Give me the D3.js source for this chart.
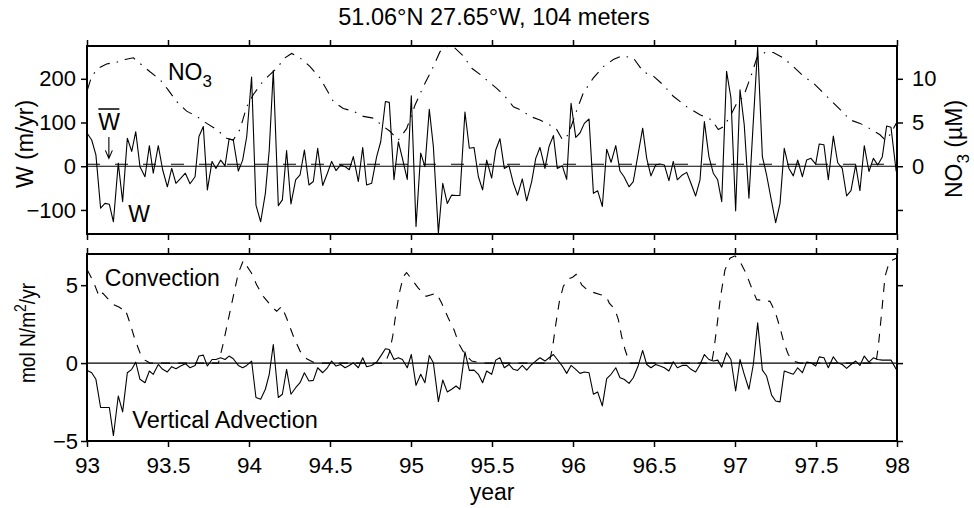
<!DOCTYPE html>
<html>
<head>
<meta charset="utf-8">
<script src="https://cdn.jsdelivr.net/npm/d3@7/dist/d3.min.js"></script>
<style>
  body { margin: 0; background: #fff; }
  text { font-family: "Liberation Sans", Arial, Helvetica, sans-serif; fill: #000; }
</style>
</head>
<body>
<div id="chart"></div>
<script>
// sample times (decimal year, 19xx) shared by W and vertical advection
var years = [
  93.002, 93.029, 93.055, 93.084, 93.111, 93.138, 93.163, 93.193, 93.220, 93.249,
  93.276, 93.301, 93.327, 93.358, 93.385, 93.409, 93.440, 93.467, 93.496, 93.523,
  93.549, 93.578, 93.607, 93.636, 93.667, 93.691, 93.718, 93.743, 93.772, 93.796,
  93.825, 93.852, 93.877, 93.903, 93.934, 93.961, 93.986, 94.016, 94.043, 94.072,
  94.101, 94.125, 94.150, 94.181, 94.206, 94.232, 94.259, 94.288, 94.315, 94.342,
  94.370, 94.397, 94.424, 94.455, 94.484, 94.510, 94.537, 94.566, 94.593, 94.619,
  94.644, 94.675,
  94.702, 94.726, 94.757, 94.788, 94.813, 94.842, 94.866, 94.895, 94.922, 94.947,
  94.977, 95.002, 95.031, 95.060, 95.086, 95.113, 95.138, 95.169, 95.196, 95.224,
  95.251, 95.278, 95.302, 95.333, 95.360, 95.389, 95.416, 95.442, 95.467, 95.498,
  95.523, 95.549, 95.576, 95.605, 95.632, 95.658, 95.687, 95.714, 95.745, 95.770,
  95.796, 95.827, 95.852, 95.879, 95.903, 95.934, 95.961, 95.988, 96.017, 96.043,
  96.070, 96.099, 96.126, 96.152, 96.181, 96.208, 96.235, 96.264,
  96.290, 96.315, 96.346, 96.372, 96.403, 96.430, 96.455, 96.481, 96.510, 96.537,
  96.564, 96.592, 96.619, 96.644, 96.675, 96.702, 96.728, 96.757, 96.784, 96.811,
  96.839, 96.866, 96.893, 96.918, 96.948, 96.975, 97.004, 97.031, 97.057, 97.086,
  97.113, 97.140, 97.169, 97.195, 97.226, 97.251, 97.278, 97.304, 97.333, 97.360,
  97.387, 97.416, 97.442, 97.469, 97.498, 97.520, 97.549, 97.576, 97.607, 97.634,
  97.662, 97.689, 97.716, 97.745, 97.771, 97.798, 97.827, 97.854, 97.881, 97.909,
  97.936, 97.963, 97.995
];

// W (m/yr)
var wValues = [
  75, 60, 26, -96, -85, -87, -127, 7, -81, 64,
  34, 79, -1, -24, 47, -16, 47, -8, -47, -5,
  -39, -28, -16, -40, -24, 68, 91, -54, 11, -5,
  14, 1, 62, 60, -11, 14, 68, 204, -89, -127,
  -62, 37, 219, -90, -77, 36, -86, -31, -20, 37,
  -43, -35, 41, -44, -16, 11, -10, 3, -1, -8,
  22, -35,
  43, -43, -39, 22, 56, 148, 146, -31, 56, 18,
  -30, 161, -138, 30, -1, 130, 45, -153, -39, -85,
  -66, -67, -67, 124, 41, 43, -24, -54, 14, -27,
  37, 63, -5, 1, -39, -66, -29, -79, -35, 18,
  43, -5, 45, 70, -5, 1, -30, 144, 66, 76,
  98, 108, -62, -56, -92, 39, 9, 47,
  -11, -24, -47, -35, 30, 87, 18, -22, 3, 5,
  3, -33, 11, -31, -20, -14, -39, -68, -31, 102,
  22, -16, -31, -81, 217, 156, -102, 175, 95, -73,
  102, 272, 22, -20, -81, -129, -85, 41, -5, -22,
  14, -24, 14, 18, 5, 51, 49, -31, 69, 8,
  -5, -68, -56, 3, -56, 47, -12, 18, 3, 21,
  92, 89, -12
];
var wMean = 4.5;

// vertical advection (mol N/m2/yr)
var advValues = [
  -0.47, -0.62, -1.04, -2.85, -2.85, -2.85, -4.66, -2.11, -3.13, -0.62,
  -0.40, 0.06, -1.04, -1.26, -0.51, -0.72, -0.09, -0.40, -0.57, -0.23,
  -0.36, -0.19, -0.04, -0.30, -0.15, 0.45, 0.51, -0.19, 0.23, 0.23,
  0.34, 0.23, 0.45, 0.28, -0.15, -0.30, -0.15, 0.13, -2.21, -2.32,
  -1.68, -0.72, 1.19, -2.21, -2.00, -0.40, -2.00, -1.58, -1.26, -0.62,
  -1.15, -1.11, -0.30, -0.62, -0.30, 0.13, -0.19, -0.09, -0.30, -0.15,
  0.02, -0.30,
  0.34, -0.23, -0.15, 0.06, 0.45, 0.92, 0.87, 0.23, 0.34, 0.23,
  -0.30, 0.55, -1.43, -0.72, -1.26, 0.49, 0.02, -2.47, -1.09, -1.85,
  -1.68, -1.47, -1.68, 0.72, -0.47, -0.45, -0.72, -1.26, -0.51, -0.72,
  0.19, 0.34, -0.30, -0.09, -0.40, -0.47, -0.15, -0.45, -0.09, 0.13,
  0.34, 0.13, 0.34, 0.55, 0.23, -0.19, -0.66, -0.15, -0.40, -0.66,
  -0.57, -0.62, -2.00, -1.85, -2.75, -1.00, -0.72, -0.30,
  -0.94, -1.04, -1.30, -0.94, -0.15, 0.81, -0.09, -0.30, -0.09, -0.19,
  -0.30, -0.51, 0.09, -0.30, -0.15, -0.15, -0.40, -0.57, -0.09, 0.55,
  0.23, 0.13, 0.19, -0.26, 0.66, 0.23, -1.79, 0.23, -0.72, -1.68,
  -0.09, 2.58, -0.45, -0.83, -2.06, -2.43, -2.49, -0.51, -0.62, -0.72,
  -0.30, -0.62, 0.06, 0.02, -0.19, 0.40, 0.34, -0.30, 0.40, 0.02,
  -0.09, -0.34, -0.09, 0.13, -0.15, 0.45, 0.06, 0.34, 0.23, 0.19,
  0.19, 0.19, -0.40
];

// NO3 (uM)
var no3Years = [
  93.002, 93.029, 93.070, 93.121, 93.183, 93.235, 93.286, 93.337, 93.389, 93.451,
  93.502, 93.553, 93.615, 93.677, 93.739, 93.800, 93.862, 93.903, 93.944, 93.986,
  94.027, 94.078, 94.119, 94.171, 94.222, 94.263, 94.315, 94.377, 94.438, 94.521,
  94.582, 94.644, 94.706, 94.768, 94.819, 94.870, 94.922, 94.973, 95.025, 95.076,
  95.128, 95.179, 95.220, 95.272, 95.323, 95.375, 95.426, 95.477, 95.529, 95.580,
  95.632, 95.683, 95.735, 95.796, 95.858, 95.899, 95.936, 95.971, 96.023, 96.064,
  96.126, 96.187, 96.249, 96.300, 96.372, 96.434, 96.496, 96.557, 96.619, 96.702,
  96.784, 96.856, 96.897, 96.928, 96.970, 97.011, 97.053, 97.104, 97.135, 97.185,
  97.237, 97.298, 97.360, 97.422, 97.484, 97.566, 97.648, 97.710, 97.772, 97.833,
  97.895, 97.926, 97.957, 97.995
];
var no3Values = [
  8.7, 10.3, 11.2, 11.7, 11.9, 12.2, 12.4, 11.6, 10.8, 9.9,
  8.7, 7.4, 6.3, 5.7, 4.9, 4.2, 3.2, 3.0, 4.2, 6.8,
  8.2, 9.5, 10.3, 11.2, 12.4, 12.9, 12.4, 11.4, 10.1, 7.4,
  6.6, 6.3, 5.7, 5.5, 4.7, 4.0, 3.0, 4.3, 7.0, 9.1,
  11.0, 13.1, 13.7, 13.5, 12.6, 11.2, 10.5, 9.7, 8.9, 8.0,
  6.8, 6.4, 5.7, 5.3, 4.7, 4.2, 3.0, 3.6, 6.4, 8.4,
  10.1, 11.4, 12.2, 12.6, 12.4, 10.8, 10.3, 9.3, 8.0, 6.8,
  5.9, 5.3, 4.2, 4.5, 5.7, 7.2, 8.0, 10.6, 12.4, 13.0,
  13.0, 12.4, 11.4, 10.3, 9.5, 8.0, 6.5, 5.3, 4.9, 4.3,
  3.6, 3.0, 3.6, 4.9
];

// convection (mol N/m2/yr)
var convYears = [
  93.002, 93.039, 93.076, 93.097, 93.163, 93.200, 93.220, 93.235, 93.265, 93.296,
  93.327, 93.358, 93.389, 93.811, 93.842, 93.872, 93.903, 93.934, 93.965, 93.986,
  94.016, 94.047, 94.088, 94.140, 94.171, 94.202, 94.232, 94.274, 94.315, 94.356,
  94.397, 94.438, 94.840, 94.866, 94.887, 94.907, 94.928, 94.953, 94.973, 94.994,
  95.045, 95.076, 95.093, 95.158, 95.189, 95.230, 95.265, 95.298, 95.333, 95.375,
  95.426, 95.467, 95.854, 95.875, 95.895, 95.916, 95.940, 95.971, 95.998, 96.019,
  96.054, 96.088, 96.105, 96.171, 96.204, 96.224, 96.259, 96.280, 96.300, 96.321,
  96.342, 96.352, 96.856, 96.870, 96.891, 96.911, 96.938, 96.969, 97.000, 97.031,
  97.068, 97.103, 97.134, 97.216, 97.247, 97.278, 97.302, 97.329, 97.360, 97.401,
  97.870, 97.885, 97.905, 97.926, 97.953, 97.995
];
var convValues = [
  5.98, 5.24, 4.24, 4.49, 3.75, 3.58, 3.43, 3.49, 2.58, 1.51,
  0.66, 0.19, 0, 0, 1.30, 2.79, 4.28, 5.77, 6.58, 6.24,
  5.77, 5.02, 4.28, 3.64, 3.32, 3.64, 2.89, 1.72, 0.77, 0.28,
  0.06, 0, 0, 0.66, 1.72, 3.21, 4.49, 5.56, 5.81, 5.51,
  4.81, 4.49, 4.28, 4.49, 3.85, 2.89, 2.15, 1.19, 0.55, 0.13,
  0.02, 0, 0, 1.09, 2.58, 3.96, 4.92, 5.39, 5.51, 5.70,
  5.02, 4.70, 4.60, 4.39, 4.28, 3.85, 3.43, 2.79, 1.72, 0.87,
  0.23, 0, 0, 0.87, 2.58, 4.28, 5.98, 6.73, 6.88, 6.51,
  5.77, 4.81, 4.07, 3.96, 3.32, 2.26, 1.30, 0.55, 0.13, 0,
  0, 1.09, 3.21, 5.56, 6.51, 6.73
];

// ticks
var xTicks = [93, 93.5, 94, 94.5, 95, 95.5, 96, 96.5, 97, 97.5, 98];
var xTickLabels = ["93", "93.5", "94", "94.5", "95", "95.5", "96", "96.5", "97", "97.5", "98"];
var wTicks = [200, 100, 0, -100];
var wTickLabels = ["200", "100", "0", "\u2212100"];
var no3Ticks = [10, 5, 0, -5];
var no3TickLabels = ["10", "5", "0", ""];
var fluxTicks = [5, 0, -5];
var fluxTickLabels = ["5", "0", "\u22125"];

var font = '"Liberation Sans", Arial, Helvetica, sans-serif';
var width = 810, topH = 188, botH = 187;

var svg = d3.select("#chart")
  .append("svg")
    .attr("width", 974)
    .attr("height", 508);

var x = d3.scaleLinear().domain([93, 98]).range([0, width]);
var yW = d3.scaleLinear().domain([-155, 275]).range([topH, 0]);
var yN = d3.scaleLinear().domain([-7.75, 13.75]).range([topH, 0]);
var yF = d3.scaleLinear().domain([-5, 7]).range([botH, 0]);

var top1 = svg.append("g").attr("transform", "translate(87,46)");
var bot = svg.append("g").attr("transform", "translate(87,254)");

function styleAxis(g, size) {
  g.select(".domain").remove();
  g.attr("font-family", font).attr("font-size", size || 22);
  g.selectAll(".tick line").attr("stroke", "#000").attr("stroke-width", 1.5);
  g.selectAll(".tick text").attr("fill", "#000");
}

// ---- top panel ----
top1.append("g").call(d3.axisTop(x).tickValues(xTicks).tickFormat("").tickSize(6)).call(styleAxis);
top1.append("g").attr("transform", "translate(0," + topH + ")")
  .call(d3.axisBottom(x).tickValues(xTicks).tickFormat("").tickSize(6)).call(styleAxis);
top1.append("g")
  .call(d3.axisLeft(yW).tickValues(wTicks).tickFormat(function(d, i) { return wTickLabels[i]; }).tickSize(6).tickPadding(5))
  .call(styleAxis);
top1.append("g").attr("transform", "translate(" + width + ",0)")
  .call(d3.axisRight(yN).tickValues(no3Ticks).tickFormat(function(d, i) { return no3TickLabels[i]; }).tickSize(6).tickPadding(9))
  .call(styleAxis);

top1.append("line")
  .attr("x1", 0).attr("x2", width)
  .attr("y1", yW(0)).attr("y2", yW(0))
  .attr("stroke", "#000").attr("stroke-width", 1.2);

top1.append("line")
  .attr("x1", 0).attr("x2", width)
  .attr("y1", yW(wMean)).attr("y2", yW(wMean))
  .attr("stroke", "#000").attr("stroke-width", 1.1)
  .attr("stroke-dasharray", "13,15");

top1.append("path")
  .datum(no3Years)
  .attr("fill", "none")
  .attr("stroke", "#000")
  .attr("stroke-width", 1.1)
  .attr("stroke-dasharray", "11,7,1.5,7")
  .attr("d", d3.line()
    .x(function(d) { return x(d); })
    .y(function(d, i) { return yN(no3Values[i]); }));

top1.append("path")
  .datum(years)
  .attr("fill", "none")
  .attr("stroke", "#000")
  .attr("stroke-width", 1.1)
  .attr("stroke-linejoin", "round")
  .attr("d", d3.line()
    .x(function(d) { return x(d); })
    .y(function(d, i) { return yW(wValues[i]); }));

top1.append("rect")
  .attr("width", width).attr("height", topH)
  .attr("fill", "none").attr("stroke", "#000").attr("stroke-width", 2);

// annotations
var no3Label = top1.append("text")
  .attr("x", x(93.50)).attr("y", 34)
  .attr("font-size", 23);
no3Label.append("tspan").text("NO");
no3Label.append("tspan").attr("dy", 7).attr("font-size", 17).text("3");

top1.append("text")
  .attr("x", x(93.07)).attr("y", 84)
  .attr("font-size", 23)
  .text("W");
top1.append("line")
  .attr("x1", x(93.07)).attr("x2", x(93.07) + 21)
  .attr("y1", 63).attr("y2", 63)
  .attr("stroke", "#000").attr("stroke-width", 1.5);
top1.append("path")
  .attr("d", "M" + x(93.135) + "," + yW(67) + "V" + yW(18) +
             "M" + (x(93.135) - 3.5) + "," + (yW(18) - 8) + "L" + x(93.135) + "," + yW(18) +
             "L" + (x(93.135) + 3.5) + "," + (yW(18) - 8))
  .attr("fill", "none").attr("stroke", "#000").attr("stroke-width", 1.1);

top1.append("text")
  .attr("x", x(93.255)).attr("y", 176)
  .attr("font-size", 23)
  .text("W");

// ---- bottom panel ----
bot.append("g").call(d3.axisTop(x).tickValues(xTicks).tickFormat("").tickSize(6)).call(styleAxis);
var xAxis = bot.append("g").attr("transform", "translate(0," + botH + ")")
  .call(d3.axisBottom(x).tickValues(xTicks).tickFormat(function(d, i) { return xTickLabels[i]; }).tickSize(6))
  .call(styleAxis, 22.5);
xAxis.selectAll(".tick text").attr("y", 32).attr("dy", 0);
bot.append("g")
  .call(d3.axisLeft(yF).tickValues(fluxTicks).tickFormat(function(d, i) { return fluxTickLabels[i]; }).tickSize(6).tickPadding(3))
  .call(styleAxis);
bot.append("g").attr("transform", "translate(" + width + ",0)")
  .call(d3.axisRight(yF).tickValues(fluxTicks).tickFormat("").tickSize(6))
  .call(styleAxis);

bot.append("line")
  .attr("x1", 0).attr("x2", width)
  .attr("y1", yF(0)).attr("y2", yF(0))
  .attr("stroke", "#000").attr("stroke-width", 1.2);

bot.append("path")
  .datum(convYears)
  .attr("fill", "none")
  .attr("stroke", "#000")
  .attr("stroke-width", 1.1)
  .attr("stroke-dasharray", "9,8")
  .attr("d", d3.line()
    .x(function(d) { return x(d); })
    .y(function(d, i) { return yF(convValues[i]); }));

bot.append("path")
  .datum(years)
  .attr("fill", "none")
  .attr("stroke", "#000")
  .attr("stroke-width", 1.1)
  .attr("stroke-linejoin", "round")
  .attr("d", d3.line()
    .x(function(d) { return x(d); })
    .y(function(d, i) { return yF(advValues[i]); }));

bot.append("rect")
  .attr("width", width).attr("height", botH)
  .attr("fill", "none").attr("stroke", "#000").attr("stroke-width", 2);

bot.append("text")
  .attr("x", x(93.11)).attr("y", 32)
  .attr("font-size", 23)
  .text("Convection");
bot.append("text")
  .attr("x", x(93.28)).attr("y", 174)
  .attr("font-size", 23.5)
  .text("Vertical Advection");

// ---- titles and axis labels ----
svg.append("text")
  .attr("x", 494).attr("y", 25)
  .attr("text-anchor", "middle")
  .attr("font-size", 23.5)
  .text("51.06\u00b0N 27.65\u00b0W, 104 meters");

svg.append("text")
  .attr("x", 492).attr("y", 500)
  .attr("text-anchor", "middle")
  .attr("font-size", 23)
  .text("year");

svg.append("text")
  .attr("transform", "translate(33,144) rotate(-90)")
  .attr("text-anchor", "middle")
  .attr("font-size", 23)
  .text("W (m/yr)");

var no3Axis = svg.append("text")
  .attr("transform", "translate(962,149) rotate(-90)")
  .attr("text-anchor", "middle")
  .attr("font-size", 23);
no3Axis.append("tspan").text("NO");
no3Axis.append("tspan").attr("dy", 7).attr("font-size", 17).text("3");
no3Axis.append("tspan").attr("dy", -7).text(" (\u00b5M)");

var fluxAxis = svg.append("text")
  .attr("transform", "translate(35,333) rotate(-90) scale(0.87,1)")
  .attr("text-anchor", "middle")
  .attr("font-size", 22);
fluxAxis.append("tspan").text("mol N/m");
fluxAxis.append("tspan").attr("dy", -9).attr("font-size", 16).text("2");
fluxAxis.append("tspan").attr("dy", 9).text("/yr");
</script>
</body>
</html>
